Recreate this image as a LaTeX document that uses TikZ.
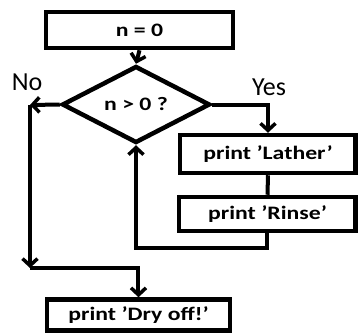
\documentclass[tikz,border=0pt]{standalone}
\usepackage{fontspec}
\setmainfont{Carlito}
\usetikzlibrary{shapes.geometric,arrows.meta}
\newcommand{\wide}[1]{\scalebox{1.25}[1]{#1}}
\begin{document}
\begin{tikzpicture}[x=1pt,y=-1pt,
  stepbox/.style={draw, line width=4.5pt, inner sep=0pt, font=\bfseries\fontsize{19}{21}\selectfont},
  ln/.style={line width=4pt},
  arr/.style={ln, -{Straight Barb[length=7pt,width=15pt,line width=3.5pt]}},
  lbl/.style={font=\fontsize{26}{28}\selectfont, inner sep=0pt}]
\clip (0,0) rectangle (360,333);
\node[stepbox, minimum width=187pt, minimum height=36pt] (n0) at (139.5,30) {\wide{n = 0}};
\node[draw, diamond, line width=4.5pt, minimum width=148pt, minimum height=65pt, inner sep=0pt,
  font=\bfseries\fontsize{19}{21}\selectfont] (d) at (136,104.5) {\wide{n > 0 ?}};
\node[stepbox, minimum width=175.5pt, minimum height=38pt] (lather) at (268,154) {\wide{print 'Lather'}};
\node[stepbox, minimum width=176.5pt, minimum height=34pt] (rinse) at (267.5,214) {\wide{print 'Rinse'}};
\node[stepbox, minimum width=183pt, minimum height=31pt] (dry) at (138.5,315) {\wide{print 'Dry off!'}};
\node[lbl] (no) at (27,82) {No};
\node[lbl] (yes) at (269,87) {Yes};
\coordinate (nl) at (30,105);
\coordinate (nd) at (30,268);
\draw[arr] (n0.south) -- (d.north);
\draw[arr] (d.east) -| (lather.north);
\draw[ln] (lather.south) -- (rinse.north);
\draw[arr] (rinse.south) -- ++(0,15) -| (d.south);
\draw[arr] (d.west) -- (nl);
\draw[arr] (nl) -- (nd);
\draw[arr] (nd) -| (dry.north);
\end{tikzpicture}
\end{document}
